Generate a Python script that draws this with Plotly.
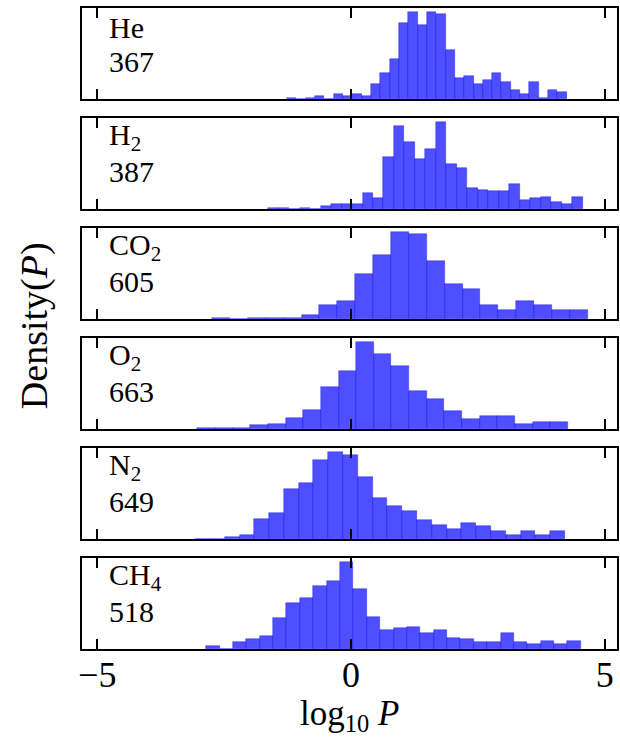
import numpy as np
import plotly.graph_objects as go
from plotly.subplots import make_subplots

# species labels and sample counts
species = ["He", "H<sub>2</sub>", "CO<sub>2</sub>", "O<sub>2</sub>", "N<sub>2</sub>", "CH<sub>4</sub>"]
counts = ["367", "387", "605", "663", "649", "518"]

# histogram ranges (log10 P) and bar heights (density, arbitrary units)
he_range = (-1.26, 4.25)
he_h = [4, 0, 3, 10, 0, 16, 10, 16, 10, 46, 79, 121, 226, 259, 220, 259, 253, 145, 64, 70,
        46, 58, 79, 52, 28, 16, 52, 4, 28, 22]
h2_range = (-1.634, 4.567)
h2_h = [3, 3, 0, 3, 0, 10, 13, 13, 13, 46, 31, 151, 238, 193, 145, 172, 250, 130, 118, 61,
        55, 52, 52, 73, 25, 31, 34, 19, 13, 34]
co2_range = (-2.736, 4.665)
co2_h = [3, 0, 2, 2, 2, 9, 30, 39, 99, 141, 192, 189, 129, 78, 66, 30, 21, 39, 30, 21, 21]
o2_range = (-3.025, 4.272)
o2_h = [2, 2, 2, 8, 11, 26, 44, 95, 131, 197, 170, 143, 86, 68, 41, 23, 29, 29, 11, 17, 17]
n2_range = (-3.071, 4.213)
n2_h = [1, 1, 5, 8, 41, 53, 101, 113, 161, 176, 170, 125, 83, 68, 56, 38, 29, 20, 32, 26,
        17, 8, 17, 8, 17]
ch4_range = (-2.854, 4.528)
ch4_h = [8, 0, 17, 23, 32, 74, 110, 122, 149, 161, 206, 143, 77, 44, 50, 53, 38, 44, 26, 23,
         17, 17, 38, 17, 11, 20, 11, 20]

ranges = [he_range, h2_range, co2_range, o2_range, n2_range, ch4_range]
heights = [he_h, h2_h, co2_h, o2_h, n2_h, ch4_h]

x_ticks = [-5, 0, 5]
x_range = [-5.3, 5.24]

FONT = "Liberation Serif"

fig = make_subplots(rows=6, cols=1, shared_xaxes=True, vertical_spacing=19 / 641)

for i, (rng, h) in enumerate(zip(ranges, heights)):
    n = len(h)
    edges = np.linspace(rng[0], rng[1], n + 1)
    centers = (edges[:-1] + edges[1:]) / 2
    widths = np.diff(edges)
    fig.add_trace(go.Bar(
        x=centers, y=h, width=widths,
        marker=dict(color="rgba(0,0,255,0.69)",
                    line=dict(width=0.6, color="rgba(0,0,220,0.55)")),
        showlegend=False, hoverinfo="skip"), row=i + 1, col=1)
    fig.update_yaxes(range=[0, max(h) * 1.05], showticklabels=False, ticks="",
                     showgrid=False, zeroline=False, showline=True, mirror=True,
                     linecolor="black", linewidth=2, row=i + 1, col=1)
    fig.update_xaxes(range=x_range, tickvals=x_ticks, ticks="inside", ticklen=10,
                     tickwidth=2, tickcolor="black", mirror="allticks",
                     showgrid=False, zeroline=False, showline=True,
                     linecolor="black", linewidth=2,
                     showticklabels=(i == 5), ticklabelstandoff=-7,
                     tickfont=dict(family=FONT, size=36, color="black"),
                     row=i + 1, col=1)
    ax = "" if i == 0 else str(i + 1)
    fig.add_annotation(text=species[i], xref=f"x{ax} domain", yref=f"y{ax} domain",
                       x=0.046, y=0.79, xanchor="left", yanchor="middle", showarrow=False,
                       font=dict(family=FONT, size=30, color="black"))
    fig.add_annotation(text=counts[i], xref=f"x{ax} domain", yref=f"y{ax} domain",
                       x=0.046, y=0.41, xanchor="left", yanchor="middle", showarrow=False,
                       font=dict(family=FONT, size=30, color="black"))

fig.add_annotation(text="Density(<i>P</i>)", xref="paper", yref="paper", x=-0.09, y=0.505,
                   textangle=-90, showarrow=False, xanchor="center", yanchor="middle",
                   font=dict(family=FONT, size=38, color="black"))
fig.add_annotation(text="log<sub>10</sub> <i>P</i>", xref="paper", yref="paper", x=0.5,
                   y=-0.104, showarrow=False, xanchor="center", yanchor="middle",
                   font=dict(family=FONT, size=35, color="black"))

fig.update_layout(width=620, height=740, bargap=0, plot_bgcolor="white",
                  paper_bgcolor="white",
                  margin=dict(l=82, r=3, t=8, b=91, autoexpand=False))

fig.write_html("out.html", config={"displayModeBar": False},
               post_script="document.body.style.margin='0';")
